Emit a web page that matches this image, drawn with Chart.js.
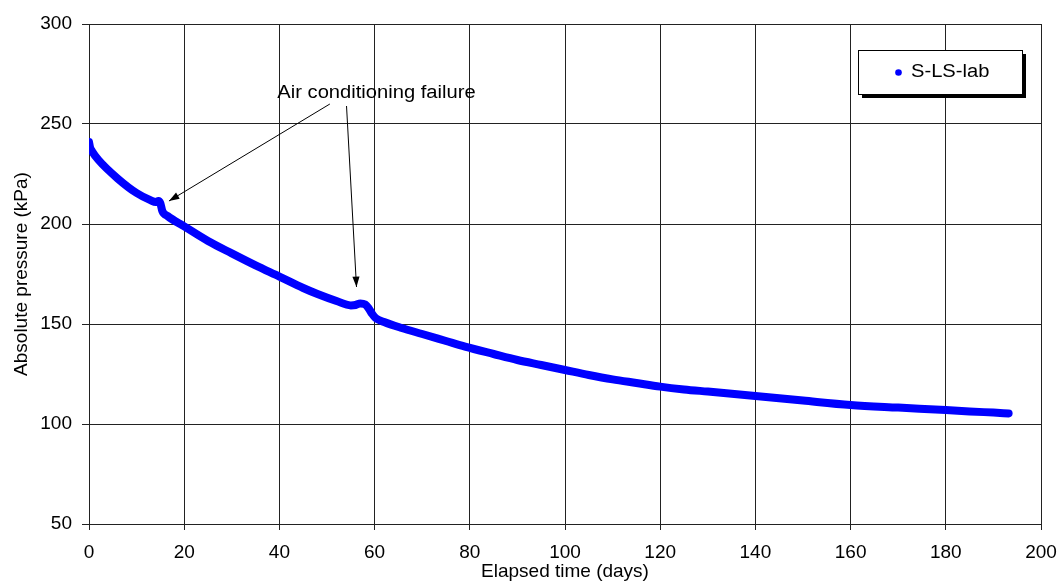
<!DOCTYPE html>
<html>
<head>
<meta charset="utf-8">
<script src="https://cdn.jsdelivr.net/npm/chart.js@4/dist/chart.umd.min.js"></script>
<style>
  html, body { margin: 0; padding: 0; background: #fff; }
</style>
</head>
<body>
<canvas id="chart" width="1061" height="583"></canvas>
<script>
// elapsed time (days)
const days = [0, 0.2, 0.6, 2, 6, 10, 13, 14, 14.6, 15, 15.4, 16.5, 20, 25, 30, 35, 40, 45, 48, 52, 55, 56, 57, 58, 58.7, 59.5, 60.2, 62, 65.7, 70, 75, 79, 85, 90, 95, 100, 105, 110, 115, 120, 125, 130, 140, 150, 160, 170, 180, 185, 190, 193.2];
// absolute pressure (kPa)
const pressure = [241, 238.5, 236.5, 232, 222.8, 215.5, 211.8, 211, 211.5, 210.3, 206.5, 204, 198.8, 191.5, 185.3, 179.3, 173.7, 168, 165, 161.5, 159.3, 159.5, 160.3, 159.8, 158, 155, 153, 151, 148, 145, 141.5, 138.7, 135, 132, 129.5, 127, 124.5, 122.3, 120.5, 118.7, 117.3, 116.2, 114, 111.7, 109.5, 108.2, 107, 106.3, 105.7, 105.3];

const seriesName = "S-LS-lab";
const xTicks = [0, 20, 40, 60, 80, 100, 120, 140, 160, 180, 200];
const yTicks = [50, 100, 150, 200, 250, 300];
const noteText = "Air conditioning failure";
// annotation: text anchor and arrows [fromX, fromY, toX, toY] in data units
const noteAt = [60.4, 265.5];
const arrows = [[50.6, 260, 16.8, 211.5], [54.1, 259, 56.2, 168.5]];

const FONT = "'Liberation Sans', Arial, sans-serif";
const gridColor = "#222";

const points = days.map((d, i) => ({ x: d, y: pressure[i] }));

// text in the source is slightly stretched sideways
function wideText(ctx, txt, x, y, align) {
  const sx = 1.12;
  ctx.save();
  ctx.translate(x, y);
  ctx.scale(sx, 1);
  ctx.textAlign = align;
  ctx.textBaseline = "middle";
  ctx.fillText(txt, 0, 0);
  ctx.restore();
}

const extras = {
  id: "extras",
  afterDatasetsDraw(chart) {
    const ctx = chart.ctx;
    const xs = chart.scales.x, ys = chart.scales.y;
    ctx.save();
    // annotation text
    ctx.fillStyle = "#000";
    ctx.font = "18px " + FONT;
    wideText(ctx, noteText, xs.getPixelForValue(noteAt[0]), ys.getPixelForValue(noteAt[1]), "center");
    // arrows
    ctx.strokeStyle = "#000";
    ctx.lineWidth = 1;
    arrows.forEach(a => {
      const x1 = xs.getPixelForValue(a[0]), y1 = ys.getPixelForValue(a[1]);
      const x2 = xs.getPixelForValue(a[2]), y2 = ys.getPixelForValue(a[3]);
      const ang = Math.atan2(y2 - y1, x2 - x1);
      ctx.beginPath();
      ctx.moveTo(x1, y1);
      ctx.lineTo(x2, y2);
      ctx.stroke();
      const len = 11, w = 0.33;
      ctx.beginPath();
      ctx.moveTo(x2, y2);
      ctx.lineTo(x2 - len * Math.cos(ang - w), y2 - len * Math.sin(ang - w));
      ctx.lineTo(x2 - len * Math.cos(ang + w), y2 - len * Math.sin(ang + w));
      ctx.closePath();
      ctx.fillStyle = "#000";
      ctx.fill();
    });
    // legend box with shadow
    const bx = 858, by = 50, bw = 164, bh = 44;
    ctx.fillStyle = "#000";
    ctx.fillRect(bx + 4, by + 4, bw, bh);
    ctx.fillStyle = "#fff";
    ctx.fillRect(bx, by, bw, bh);
    ctx.strokeStyle = "#000";
    ctx.lineWidth = 1;
    ctx.strokeRect(bx + 0.5, by + 0.5, bw, bh);
    ctx.beginPath();
    ctx.arc(898.5, 72.5, 3.3, 0, Math.PI * 2);
    ctx.fillStyle = "#0000ff";
    ctx.fill();
    ctx.fillStyle = "#000";
    ctx.font = "18px " + FONT;
    wideText(ctx, seriesName, 911, 72.5, "left");
    ctx.restore();
  }
};

new Chart(document.getElementById("chart"), {
  type: "line",
  data: {
    datasets: [{
      label: seriesName,
      data: points,
      borderColor: "#0000ff",
      backgroundColor: "#0000ff",
      borderWidth: 8,
      borderCapStyle: "round",
      borderJoinStyle: "round",
      cubicInterpolationMode: "monotone",
      pointRadius: 0,
      fill: false
    }]
  },
  options: {
    responsive: false,
    animation: false,
    devicePixelRatio: 1,
    layout: { padding: { top: 24, right: 20, left: 0, bottom: 0 } },
    plugins: { legend: { display: false }, tooltip: { enabled: false } },
    scales: {
      x: {
        type: "linear",
        min: 0, max: 200,
        afterBuildTicks: s => { s.ticks = xTicks.map(v => ({ value: v })); },
        afterFit: s => { s.height = 59; s.paddingRight = 0; s.paddingLeft = 0; },
        grid: { color: gridColor, lineWidth: 1, tickLength: 6 },
        border: { color: gridColor },
        ticks: { color: "#000", font: { family: FONT, size: 19 }, padding: 11, maxRotation: 0 },
        title: { display: true, text: "Elapsed time (days)", color: "#000", font: { family: FONT, size: 19 }, padding: { top: 0, bottom: 0 } }
      },
      y: {
        min: 50, max: 300,
        afterBuildTicks: s => { s.ticks = yTicks.map(v => ({ value: v })); },
        afterFit: s => { s.width = 89; s.paddingTop = 0; s.paddingBottom = 0; },
        grid: { color: gridColor, lineWidth: 1, tickLength: 7 },
        border: { color: gridColor },
        ticks: { color: "#000", font: { family: FONT, size: 19 }, padding: 10 },
        title: { display: true, text: "Absolute pressure (kPa)", color: "#000", font: { family: FONT, size: 19 }, padding: { top: 10, bottom: 0 } }
      }
    }
  },
  plugins: [extras]
});
</script>
</body>
</html>
